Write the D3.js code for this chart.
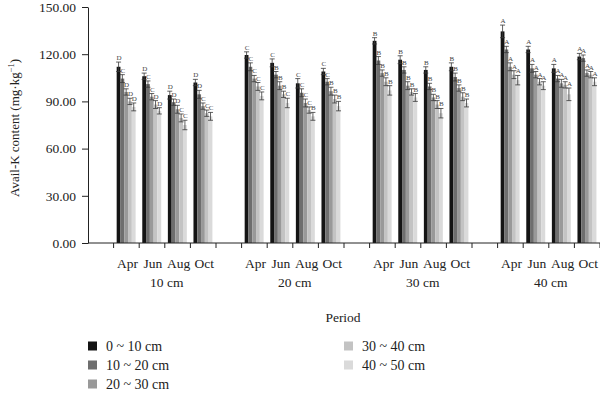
<!DOCTYPE html>
<html>
<head>
<meta charset="utf-8">
<script src="https://cdn.jsdelivr.net/npm/d3@7"></script>
<style>
  body { margin: 0; background: #fff; }
  svg { display: block; font-family: "Liberation Serif", "DejaVu Serif", serif; }
</style>
</head>
<body>
<svg id="chart" width="600" height="393"></svg>
<script>
const periods = ['Apr', 'Jun', 'Aug', 'Oct'];
const depthGroups = ['10 cm', '20 cm', '30 cm', '40 cm'];
const layers = ['0 ~ 10 cm', '10 ~ 20 cm', '20 ~ 30 cm', '30 ~ 40 cm', '40 ~ 50 cm'];
const yTicks = [0, 30, 60, 90, 120, 150];

// one value per (group, period), in order 10cm Apr..Oct, 20cm Apr..Oct, ...
const layer0 = [112, 106, 94, 102, 119.5, 114.5, 101.5, 109, 128.5, 116.5, 110, 112, 134.5, 123, 111, 118.5];
const layer1 = [104.5, 101, 89.5, 94.5, 112, 107, 95.5, 102.5, 116, 110, 99.5, 105.5, 123, 111, 104.5, 117.5];
const layer2 = [96, 93, 85, 87, 104.5, 100, 89, 96.5, 108, 100, 92.5, 98.5, 112, 107, 101.5, 108];
const layer3 = [90, 88, 79.5, 82.5, 99.5, 94.5, 84.5, 91.5, 102.5, 96, 88, 93, 107, 102.5, 100.5, 107];
const layer4 = [86.5, 84, 75, 80.5, 93.5, 89, 80.5, 87, 97, 92.5, 82.5, 89, 103.5, 100, 94.5, 102.5];

const err0 = [3, 2, 2.5, 2, 2, 2.5, 3, 2, 2, 2.5, 2, 2.5, 4, 2, 2.5, 2];
const err1 = [2.5, 2, 2, 2.5, 2.5, 2, 2.5, 2, 2.5, 2, 2, 2.5, 2, 2.5, 2, 2];
const err2 = [2, 2, 2.5, 2, 2, 2.5, 2.5, 2.5, 2, 2.5, 2, 2, 2.5, 2, 2.5, 2];
const err3 = [2, 2.5, 2.5, 2, 2.5, 2, 2, 2.5, 2.5, 2, 2.5, 2.5, 2.5, 2, 2, 2];
const err4 = [2.5, 2, 3, 2.5, 2.5, 3, 2.5, 3, 3, 2.5, 3, 2.5, 3, 2.5, 4, 2.5];

const let0 = ['D', 'D', 'D', 'D', 'C', 'C', 'C', 'C', 'B', 'B', 'B', 'B', 'A', 'A', 'A', 'A'];
const let1 = ['C', 'C', 'D', 'D', 'C', 'B', 'C', 'C', 'B', 'B', 'B', 'B', 'A', 'A', 'A', 'A'];
const let2 = ['D', 'C', 'D', 'C', 'C', 'B', 'C', 'B', 'B', 'B', 'B', 'B', 'A', 'A', 'A', 'A'];
const let3 = ['D', 'D', 'C', 'C', 'C', 'B', 'C', 'B', 'B', 'B', 'B', 'B', 'A', 'A', 'A', 'A'];
const let4 = ['D', 'D', 'C', 'C', 'C', 'C', 'B', 'B', 'B', 'B', 'B', 'B', 'A', 'A', 'A', 'A'];

const colors = ['#141414', '#6e6e6e', '#999999', '#c3c3c3', '#dadada'];

const values = [layer0, layer1, layer2, layer3, layer4];
const errors = [err0, err1, err2, err3, err4];
const letters = [let0, let1, let2, let3, let4];

// slot list: a blank slot before every group
const slots = [];
depthGroups.forEach((g, gi) => {
    slots.push('gap' + gi);
    periods.forEach(p => slots.push(g + '|' + p));
});

const svg = d3.select('#chart');
const m = { left: 88, right: 600, top: 7, bottom: 243 };

const x0 = d3.scaleBand().domain(slots).range([m.left, m.right]).padding(0);
const x1 = d3.scaleBand()
    .domain(layers)
    .range([x0.bandwidth() * 0.12, x0.bandwidth() * 0.86])
    .padding(0);
const y = d3.scaleLinear().domain([0, 150]).range([m.bottom, m.top]);

// bars
const cells = [];
depthGroups.forEach((g, gi) => {
    periods.forEach((p, pi) => {
        const k = gi * 4 + pi;
        layers.forEach((l, li) => {
            cells.push({ slot: g + '|' + p, layer: l, li, v: values[li][k], e: errors[li][k], t: letters[li][k] });
        });
    });
});

const cx = d => x0(d.slot) + x1(d.layer) + x1.bandwidth() / 2;

svg.append('g')
    .selectAll('rect')
    .data(cells)
    .join('rect')
    .attr('x', d => x0(d.slot) + x1(d.layer))
    .attr('y', d => y(d.v))
    .attr('width', x1.bandwidth())
    .attr('height', d => y(0) - y(d.v))
    .attr('fill', d => colors[d.li]);

// error bars
const eb = svg.append('g').attr('stroke', '#3a3a3a').attr('stroke-width', 0.8);
cells.forEach(d => {
    const c = cx(d);
    eb.append('line').attr('x1', c).attr('x2', c).attr('y1', y(d.v - d.e)).attr('y2', y(d.v + d.e));
    eb.append('line').attr('x1', c - 2.5).attr('x2', c + 2.5).attr('y1', y(d.v + d.e)).attr('y2', y(d.v + d.e));
    eb.append('line').attr('x1', c - 2.5).attr('x2', c + 2.5).attr('y1', y(d.v - d.e)).attr('y2', y(d.v - d.e));
});

// significance letters
svg.append('g')
    .selectAll('text')
    .data(cells)
    .join('text')
    .attr('x', d => cx(d) + 0.5)
    .attr('y', d => y(d.v + d.e) - 2)
    .attr('text-anchor', 'middle')
    .attr('font-size', 7)
    .attr('fill', '#444')
    .text(d => d.t);

// y axis
const yAxis = svg.append('g')
    .attr('transform', `translate(${m.left},0)`)
    .call(d3.axisLeft(y).tickValues(yTicks).tickFormat(d3.format('.2f')).tickSize(6).tickSizeOuter(0));
yAxis.select('.domain').attr('stroke', '#222');
yAxis.selectAll('.tick line').attr('stroke', '#222');
yAxis.selectAll('.tick text')
    .attr('font-family', '"Liberation Serif", serif')
    .attr('font-size', 13.5)
    .attr('fill', '#222')
    .attr('x', -12);

// x axis: ticks at every slot boundary
const xa = svg.append('g');
xa.append('line').attr('x1', m.left).attr('x2', m.right).attr('y1', m.bottom).attr('y2', m.bottom).attr('stroke', '#222');
slots.forEach(s => {
    const b = x0(s) + x0.bandwidth();
    xa.append('line').attr('x1', b).attr('x2', b).attr('y1', m.bottom).attr('y2', m.bottom + 5).attr('stroke', '#222');
});

depthGroups.forEach(g => {
    periods.forEach(p => {
        xa.append('text')
            .attr('x', x0(g + '|' + p) + x0.bandwidth() / 2 + 1)
            .attr('y', m.bottom + 25)
            .attr('text-anchor', 'middle')
            .attr('font-size', 13.5)
            .attr('fill', '#222')
            .text(p);
    });
    const gx = (x0(g + '|' + periods[0]) + x0(g + '|' + periods[3]) + x0.bandwidth()) / 2;
    xa.append('text')
        .attr('x', gx + 2)
        .attr('y', m.bottom + 44)
        .attr('text-anchor', 'middle')
        .attr('font-size', 13.5)
        .attr('fill', '#222')
        .text(g);
});

svg.append('text')
    .attr('x', 343)
    .attr('y', 322)
    .attr('text-anchor', 'middle')
    .attr('font-size', 13.5)
    .attr('fill', '#222')
    .text('Period');

// y title
const yt = svg.append('text')
    .attr('transform', `translate(19,${(m.top + m.bottom) / 2 + 3}) rotate(-90)`)
    .attr('text-anchor', 'middle')
    .attr('font-size', 13)
    .attr('fill', '#222');
yt.append('tspan').text('Avail-K content (mg·kg');
yt.append('tspan').attr('dy', -5).attr('font-size', 8.5).text('−1');
yt.append('tspan').attr('dy', 5).text(')');

// legend
const legendPos = [[88, 346], [88, 365], [88, 384], [344, 346], [344, 365]];
const lg = svg.append('g');
layers.forEach((l, i) => {
    const [lx, ly] = legendPos[i];
    lg.append('rect').attr('x', lx).attr('y', ly - 4.5).attr('width', 9).attr('height', 9).attr('fill', colors[i]);
    lg.append('text')
        .attr('x', lx + 18)
        .attr('y', ly + 5)
        .attr('font-size', 14)
        .attr('fill', '#222')
        .text(l);
});
</script>
</body>
</html>
